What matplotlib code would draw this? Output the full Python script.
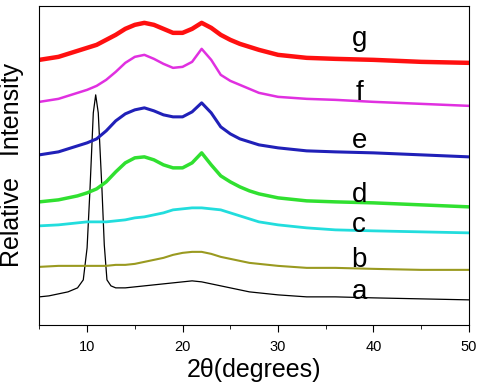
import matplotlib
matplotlib.use('Agg')
from matplotlib import pyplot as plt
from matplotlib.ticker import MultipleLocator

plt.rcParams['font.family'] = ['Liberation Sans', 'DejaVu Sans']

# 2-theta positions shared by the broad curves (b..g)
two_theta = [5, 7, 9, 10, 11, 12, 13, 14, 15, 16, 17, 18, 19, 20, 21, 22, 23,
             24, 25, 26, 27, 28, 30, 33, 36, 40, 45, 50]

curve_g = [265, 268, 274, 277, 280, 285, 290, 296, 300, 302, 300, 296, 292, 292,
           296, 302, 297, 290, 285, 281, 278, 275, 270, 267, 266, 265, 263, 262]
curve_f = [223, 226, 232, 235, 239, 245, 253, 262, 268, 270, 266, 261, 257, 258,
           263, 276, 265, 250, 244, 240, 236, 232, 228, 226, 225, 223, 221, 219]
curve_e = [170, 173, 179, 182, 186, 194, 204, 211, 215, 217, 214, 210, 208, 208,
           213, 222, 212, 198, 191, 186, 183, 180, 177, 174, 173, 172, 170, 168]
curve_d = [123, 125, 129, 132, 136, 143, 153, 162, 167, 168, 165, 160, 157, 157,
           162, 172, 160, 149, 143, 138, 134, 131, 127, 124, 123, 122, 120, 118]
curve_c = [99, 100, 102, 103, 103, 103, 104, 105, 107, 108, 110, 112, 115, 116,
           117, 117, 116, 115, 112, 109, 106, 103, 100, 97, 95, 94, 93, 92]
curve_b = [58, 59, 59, 59, 59, 59, 60, 60, 61, 63, 65, 67, 70, 72,
           73, 73, 71, 68, 66, 64, 62, 61, 59, 57, 57, 56, 55, 55]

# curve a has the sharp reflection near 10.9 deg, so it gets its own positions
two_theta_a = [5, 6, 7, 8, 9, 9.6, 10.0, 10.3, 10.65, 10.9, 11.17, 11.56, 11.8,
               12.08, 12.5, 13, 14, 15, 16, 17, 18, 19, 20, 21, 22, 23, 24, 25,
               26, 27, 28, 30, 33, 36, 40, 45, 50]
curve_a = [28, 29, 31, 33, 37, 45, 77, 135, 212, 230, 212, 135, 80, 45, 39, 37,
           37, 38, 39, 40, 41, 42, 43, 44, 43, 41, 39, 37, 35, 33, 32, 30, 28,
           28, 27, 26, 25]

labels = ['a', 'b', 'c', 'd', 'e', 'f', 'g']
label_pos = [26, 58, 93, 123, 177, 225, 279]

fig = plt.figure(figsize=(4.8, 3.9), dpi=100)
ax = fig.add_axes([0.082, 0.167, 0.895, 0.818])

ax.plot(two_theta_a, curve_a, color='black', lw=0.9)
ax.plot(two_theta, curve_b, color='#9a9a20', lw=1.5)
ax.plot(two_theta, curve_c, color='#22dddd', lw=2.0)
ax.plot(two_theta, curve_d, color='#30e030', lw=2.5)
ax.plot(two_theta, curve_e, color='#2020b8', lw=2.2)
ax.plot(two_theta, curve_f, color='#e030e0', lw=1.8)
ax.plot(two_theta, curve_g, color='#ff1010', lw=3.2)

for lab, y in zip(labels, label_pos):
    ax.text(38.5, y, lab, fontsize=20, ha='center', va='baseline')

ax.set_xlim(5, 50)
ax.set_ylim(0, 319)
ax.xaxis.set_major_locator(MultipleLocator(10))
ax.xaxis.set_minor_locator(MultipleLocator(5))
ax.tick_params(axis='x', which='major', direction='out', length=5,
               labelsize=10.5, pad=6)
ax.tick_params(axis='x', which='minor', direction='out', length=3)
ax.set_yticks([])

ax.set_xlabel('2θ(degrees)', fontsize=18, labelpad=3)
ax.set_ylabel('Relative   Intensity', fontsize=18, labelpad=11)

plt.savefig('out.png', dpi=100)
